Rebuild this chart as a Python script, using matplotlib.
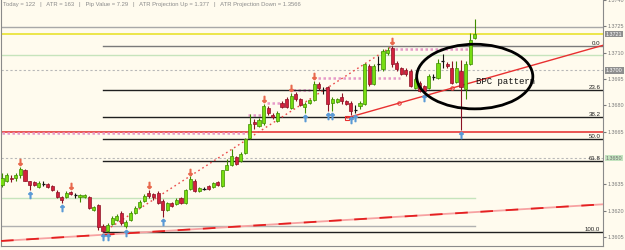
import matplotlib

matplotlib.use("Agg")
import matplotlib.pyplot as plt
from matplotlib.patches import Ellipse

# candles (EURUSD-like M-chart), index 0 = leftmost bar
opens = [
    1.36344, 1.36372, 1.36389, 1.36384, 1.36401, 1.36429, 1.36367, 1.36361, 1.36333, 1.36353,
    1.36350, 1.36338, 1.36304, 1.36276, 1.36276, 1.36304, 1.36287, 1.36276, 1.36276, 1.36276,
    1.36202, 1.36231, 1.36112, 1.36084, 1.36123, 1.36146, 1.36185, 1.36112, 1.36146, 1.36185,
    1.36219, 1.36253, 1.36299, 1.36293, 1.36299, 1.36253, 1.36202, 1.36242, 1.36236, 1.36270,
    1.36242, 1.36321, 1.36367, 1.36310, 1.36324, 1.36338, 1.36333, 1.36361, 1.36338, 1.36434,
    1.36463, 1.36508, 1.36485, 1.36531, 1.36616, 1.36706, 1.36684, 1.36700, 1.36785, 1.36746,
    1.36712, 1.36814, 1.36836, 1.36785, 1.36865, 1.36836, 1.36791, 1.36814, 1.36831, 1.36921,
    1.36887, 1.36904, 1.36814, 1.36819, 1.36848, 1.36825, 1.36814, 1.36774, 1.36797, 1.36808,
    1.37023, 1.36921, 1.37034, 1.37006, 1.37097, 1.37125, 1.37040, 1.37012, 1.37001, 1.36995,
    1.36899, 1.36927, 1.36910, 1.36899, 1.36961, 1.36955, 1.37051, 1.37034, 1.37012, 1.36933,
    1.36995, 1.36893, 1.37034, 1.37182,
]
highs = [
    1.36417, 1.36417, 1.36401, 1.36412, 1.36451, 1.36440, 1.36372, 1.36367, 1.36367, 1.36367,
    1.36355, 1.36344, 1.36316, 1.36282, 1.36310, 1.36310, 1.36299, 1.36293, 1.36293, 1.36282,
    1.36225, 1.36236, 1.36123, 1.36129, 1.36168, 1.36180, 1.36197, 1.36146, 1.36197, 1.36225,
    1.36259, 1.36293, 1.36316, 1.36299, 1.36310, 1.36265, 1.36248, 1.36248, 1.36270, 1.36276,
    1.36321, 1.36395, 1.36378, 1.36333, 1.36333, 1.36344, 1.36361, 1.36367, 1.36434, 1.36497,
    1.36553, 1.36514, 1.36536, 1.36616, 1.36751, 1.36723, 1.36729, 1.36808, 1.36797, 1.36757,
    1.36768, 1.36825, 1.36848, 1.36870, 1.36876, 1.36842, 1.36819, 1.36836, 1.36938, 1.36932,
    1.36904, 1.36910, 1.36848, 1.36842, 1.36870, 1.36831, 1.36825, 1.36802, 1.36825, 1.37040,
    1.37034, 1.37034, 1.37080, 1.37119, 1.37131, 1.37137, 1.37051, 1.37017, 1.37012, 1.37006,
    1.36961, 1.36938, 1.36916, 1.36978, 1.36978, 1.37063, 1.37091, 1.37046, 1.37051, 1.37051,
    1.37057, 1.37051, 1.37210, 1.37289,
]
lows = [
    1.36333, 1.36361, 1.36361, 1.36372, 1.36389, 1.36367, 1.36316, 1.36338, 1.36327, 1.36338,
    1.36327, 1.36310, 1.36270, 1.36242, 1.36270, 1.36287, 1.36270, 1.36248, 1.36270, 1.36208,
    1.36197, 1.36089, 1.36078, 1.36078, 1.36118, 1.36140, 1.36118, 1.36100, 1.36140, 1.36180,
    1.36214, 1.36248, 1.36270, 1.36259, 1.36236, 1.36163, 1.36197, 1.36219, 1.36231, 1.36236,
    1.36236, 1.36316, 1.36304, 1.36304, 1.36316, 1.36316, 1.36327, 1.36338, 1.36333, 1.36429,
    1.36457, 1.36463, 1.36480, 1.36525, 1.36610, 1.36667, 1.36678, 1.36689, 1.36746, 1.36723,
    1.36706, 1.36785, 1.36785, 1.36780, 1.36825, 1.36797, 1.36757, 1.36808, 1.36825, 1.36887,
    1.36865, 1.36768, 1.36768, 1.36814, 1.36808, 1.36802, 1.36746, 1.36757, 1.36780, 1.36802,
    1.36910, 1.36916, 1.36995, 1.36995, 1.37085, 1.37017, 1.36995, 1.36972, 1.36966, 1.36904,
    1.36893, 1.36876, 1.36870, 1.36893, 1.36944, 1.36950, 1.37012, 1.37012, 1.36921, 1.36927,
    1.36661, 1.36836, 1.37029, 1.37176,
]
closes = [
    1.36389, 1.36401, 1.36378, 1.36401, 1.36440, 1.36372, 1.36344, 1.36344, 1.36355, 1.36353,
    1.36333, 1.36316, 1.36276, 1.36259, 1.36299, 1.36293, 1.36287, 1.36287, 1.36287, 1.36214,
    1.36219, 1.36106, 1.36084, 1.36118, 1.36157, 1.36168, 1.36129, 1.36135, 1.36185, 1.36214,
    1.36248, 1.36282, 1.36282, 1.36276, 1.36242, 1.36202, 1.36242, 1.36225, 1.36259, 1.36242,
    1.36316, 1.36378, 1.36310, 1.36327, 1.36324, 1.36321, 1.36355, 1.36344, 1.36429, 1.36463,
    1.36514, 1.36468, 1.36525, 1.36610, 1.36695, 1.36695, 1.36717, 1.36797, 1.36757, 1.36734,
    1.36757, 1.36791, 1.36791, 1.36853, 1.36836, 1.36802, 1.36808, 1.36831, 1.36921, 1.36899,
    1.36887, 1.36808, 1.36836, 1.36836, 1.36825, 1.36808, 1.36768, 1.36774, 1.36814, 1.37034,
    1.36921, 1.37023, 1.37034, 1.37108, 1.37114, 1.37034, 1.37006, 1.36978, 1.36978, 1.36910,
    1.36950, 1.36882, 1.36882, 1.36966, 1.36961, 1.37040, 1.37051, 1.37023, 1.36927, 1.37012,
    1.36904, 1.37034, 1.37170, 1.37206,
]

up_fractals = [4, 15, 32, 41, 57, 63, 68, 85]
down_fractals = [6, 13, 22, 23, 27, 35, 66, 71, 72, 76, 77, 92, 100]

# fibonacci from bar 22 low to bar 85 high
fib_start, fib_end = 22, 85
fib_low, fib_high = 1.36078, 1.37137
fib_levels = [0.0, 23.6, 38.2, 50.0, 61.8, 100.0]

bid = 1.37206
grey_level = 1.37244
green_level = 1.37085
round_levels = [1.3700, 1.3650]
red_level = 1.36650
lower_green_level = 1.36270
lower_grey_level = 1.36112
short_end = 103  # the two lower levels stop at the last bar

# trendlines: (bar, price) anchors
trend_low = [(0, 1.36028), (103, 1.36192)]
trend_up = [(75.2, 1.36729), (103, 1.36935)]
touch_bars = [86.5, 98]

# pink fractal-level segments: (from bar, to bar, price)
pink_segments = [
    (0, 54, 1.36644), (53.6, 56.6, 1.36746), (57.7, 61, 1.36814),
    (63.4, 67, 1.36887), (67.8, 86.7, 1.36955), (84.5, 102, 1.37119),
]

yticks = [1.3740, 1.3725, 1.3710, 1.3695, 1.3680, 1.3665, 1.3635, 1.3620, 1.3605]
header = ("Today = 122   |   ATR = 163   |   Pip Value = 7.29   |   "
          "ATR Projection Up = 1.377   |   ATR Projection Down = 1.3566")

BG = "#fffbee"
UP_BODY, UP_EDGE = "#77dd11", "#3f8c00"
DN_BODY, DN_EDGE = "#d2203c", "#8c1224"

plt.rcParams["font.family"] = ["Liberation Sans", "DejaVu Sans"]

fig = plt.figure(figsize=(6.25, 2.5), dpi=100)
fig.patch.set_facecolor(BG)
ax = fig.add_axes([1 / 625, 4 / 250, 602 / 625, 246 / 250])
ax.set_facecolor(BG)
xmin, xmax = -0.22, 130.94
ax.set_xlim(xmin, xmax)
ax.set_ylim(1.35999, 1.37391)

# horizontal levels
ax.axhline(grey_level, color="#a8a8a8", lw=1.0, zorder=1)
ax.axhline(bid, color="#ece64a", lw=1.4, zorder=1)
ax.axhline(green_level, color="#c6e4bc", lw=1.0, zorder=1)
for lv in round_levels:
    ax.axhline(lv, color="#b8b8b8", lw=0.8, ls=(0, (2, 2)), zorder=1)
ax.axhline(red_level, color="#e42a2a", lw=1.1, zorder=2)
ax.plot([xmin, short_end], [lower_green_level] * 2, color="#c6e4bc", lw=1.0, zorder=1)
ax.plot([xmin, short_end], [lower_grey_level] * 2, color="#b0b0b0", lw=1.0, zorder=1)

for x0, x1, p in pink_segments:
    ax.plot([x0, x1], [p, p], color="#e69ac8", lw=1.8, ls=(0, (1, 1)), zorder=2)

# fibonacci
for lvl in fib_levels:
    price = fib_high - (fib_high - fib_low) * lvl / 100
    col = "#7a7a7a" if lvl == 0 else "#202020"
    ax.plot([fib_start, xmax], [price, price], color=col, lw=1.0, zorder=2)
    ax.text(xmax - 0.6, price, f"{lvl:.1f}", ha="right", va="bottom",
            fontsize=4.4, color="#202020", zorder=6)
ax.plot([fib_start, fib_end], [fib_low, fib_high], color="#ea4a4a", lw=1.0,
        ls=(0, (1.2, 2.2)), zorder=3)


# trendlines, extended over the whole width / to the right edge
def line_at(anchors, x):
    (xa, ya), (xb, yb) = anchors
    return ya + (yb - ya) / (xb - xa) * (x - xa)


lx = [xmin, xmax]
ly = [line_at(trend_low, x) for x in lx]
ax.plot(lx, ly, color="#f7a2a2", lw=1.3, zorder=3)
ax.plot(lx, ly, color="#e42020", lw=1.3, ls=(0, (7, 7)), zorder=3)

ux = [trend_up[0][0], xmax]
uy = [line_at(trend_up, x) for x in ux]
ax.plot(ux, uy, color="#e83030", lw=1.0, zorder=3)
ax.plot(trend_up[0][0], trend_up[0][1], marker="s", ms=3, mfc="none", mec="#e83030", mew=0.8, zorder=4)
for tb in touch_bars:
    ax.plot(tb, line_at(trend_up, tb), marker="o", ms=2.5, mfc="none", mec="#e83030", mew=0.7, zorder=4)

# candles
for i, (o, h, l, c) in enumerate(zip(opens, highs, lows, closes)):
    if c > o:
        body, edge = UP_BODY, UP_EDGE
    elif c < o:
        body, edge = DN_BODY, DN_EDGE
    else:
        body, edge = "#111111", "#111111"
    ax.vlines(i, l, h, color=edge, lw=0.8, zorder=4)
    if c == o:
        ax.hlines(c, i - 0.38, i + 0.38, color=edge, lw=0.9, zorder=5)
    else:
        ax.bar(i, c - o, bottom=o, width=0.68, color=body, edgecolor=edge,
               linewidth=0.5, zorder=5)

# fractal arrows
for i in up_fractals:
    ax.plot(i, highs[i] + 0.00028, marker=r"$\downarrow$", ms=4.5, color="#e8684c", zorder=6)
for i in down_fractals:
    ax.plot(i, lows[i] - 0.00028, marker=r"$\uparrow$", ms=4.5, color="#5a9ad6", zorder=6)

# annotation
ax.text(103.3, 1.36935, "BPC pattern", fontsize=6.5, family="Liberation Mono",
        ha="left", va="center", color="#111111", zorder=7)
ax.add_patch(Ellipse((103.0, 1.36964), 25.3, 0.00368, fill=False,
                     edgecolor="#000000", lw=2.0, zorder=8))

# right price axis
ax.yaxis.tick_right()
ax.set_yticks(yticks)
ax.set_yticklabels([f"{v:.4f}" for v in yticks])
ax.tick_params(axis="y", colors="#7a7a7a", labelsize=3.9, length=2, pad=1.5)
ax.set_xticks([])
ax.spines["top"].set_visible(False)
for side in ("left", "right", "bottom"):
    ax.spines[side].set_color("#8a8a8a")
    ax.spines[side].set_linewidth(0.8)

tr = ax.get_yaxis_transform()
boxes = [(bid, "#8e8e8e", "white"), (1.3700, "#8e8e8e", "white"), (1.3650, "#c4e4c0", "#707070")]
for price, fc, tc in boxes:
    ax.text(1.005, price, f"{price:.4f}", transform=tr, fontsize=3.9, color=tc,
            va="center", ha="left", clip_on=False, zorder=9,
            bbox=dict(facecolor=fc, edgecolor="none", pad=0.6))

fig.text(3 / 625, 1 - 2 / 250, header, fontsize=4.2, color="#8a8a8a", va="top", ha="left")

fig.savefig("out.png", dpi=100, facecolor=fig.get_facecolor())
